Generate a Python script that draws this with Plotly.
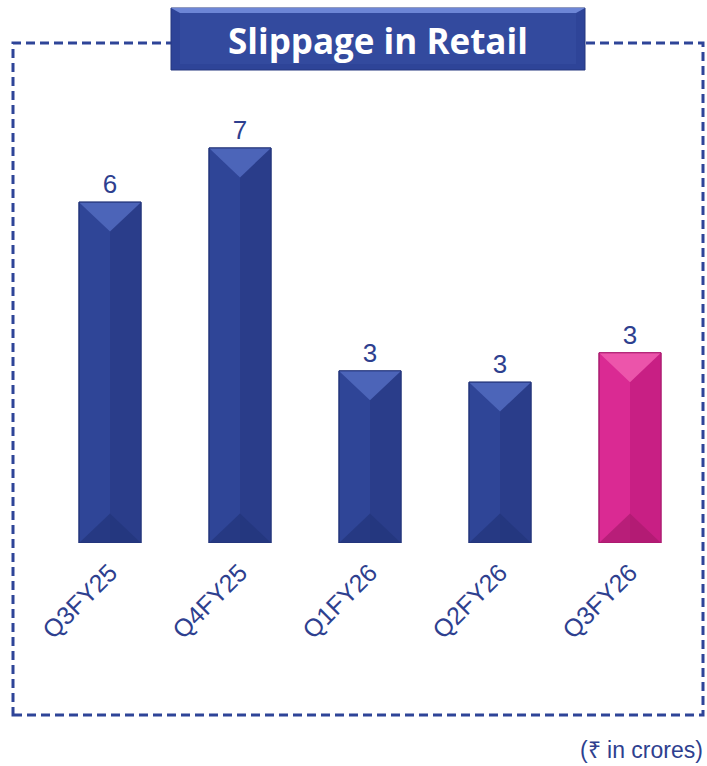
import plotly.graph_objects as go

categories = ["Q3FY25", "Q4FY25", "Q1FY26", "Q2FY26", "Q3FY26"]
values = [6.04, 7.0, 3.05, 2.85, 3.37]
value_labels = ["6", "7", "3", "3", "3"]
title_text = "Slippage in Retail"
note_text = "(₹ in crores)"

W, H = 707, 766
ML, MR, MT, MB = 45, 12, 100, 223
PW = W - ML - MR
PH = H - MT - MB
YMAX = 7.85
BARGAP = 0.523

BLUE = dict(main="#2F4597", right="#2A3D8A", top="#5068BC", bot="#22347A", line="#22347A")
PINK = dict(main="#DA2A93", right="#C81F84", top="#EE5AAE", bot="#A91A6E", line="#A91A6E")
palette = [BLUE, BLUE, BLUE, BLUE, PINK]
TXT = "#2E3F8F"

fig = go.Figure()
fig.add_trace(go.Bar(
    x=list(range(len(categories))), y=values,
    marker=dict(color=[p["main"] for p in palette],
                line=dict(color=[p["line"] for p in palette], width=1)),
    text=value_labels, textposition="outside",
    textfont=dict(family="Liberation Sans, Arial", size=26, color=TXT),
    cliponaxis=False, hoverinfo="skip",
))

# bevel shading derived from the data values
hw = (1 - BARGAP) / 2
px_per_unit = PH / YMAX
half_px = hw * PW / len(categories)
d = half_px * 0.95 / px_per_unit
shapes = []
for i, v in enumerate(values):
    p = palette[i]
    x0, x1, xc = i - hw, i + hw, i
    shapes.append(dict(type="path", xref="x", yref="y", layer="above",
                       path=f"M{xc},0 L{x1},0 L{x1},{v} L{xc},{v} Z",
                       fillcolor=p["right"], line=dict(width=0)))
    shapes.append(dict(type="path", xref="x", yref="y", layer="above",
                       path=f"M{x0},{v} L{x1},{v} L{xc},{v-d} Z",
                       fillcolor=p["top"], line=dict(width=0), opacity=0.9))
    shapes.append(dict(type="path", xref="x", yref="y", layer="above",
                       path=f"M{x0},0 L{x1},0 L{xc},{d} Z",
                       fillcolor=p["bot"], line=dict(width=0), opacity=0.7))
    shapes.append(dict(type="rect", xref="x", yref="y", layer="above",
                       x0=x0, x1=x1, y0=0, y1=v,
                       line=dict(color=p["line"], width=1)))

def px_x(px):
    return (px - ML) / PW

def px_y(py):
    return (H - MB - py) / PH

# dashed frame
shapes.append(dict(type="rect", xref="paper", yref="paper", layer="below",
                   x0=px_x(13), x1=px_x(703), y0=px_y(715), y1=px_y(43),
                   line=dict(color="#2E4498", width=3, dash="9px,5px")))
# title box
shapes.append(dict(type="rect", xref="paper", yref="paper", layer="above",
                   x0=px_x(171), x1=px_x(585), y0=px_y(70), y1=px_y(8),
                   fillcolor="#2E4498", line=dict(color="#24377F", width=1)))
shapes.append(dict(type="rect", xref="paper", yref="paper", layer="above",
                   x0=px_x(180), x1=px_x(576), y0=px_y(64), y1=px_y(13),
                   fillcolor="#334A9E", line=dict(width=0)))
shapes.append(dict(type="path", xref="paper", yref="paper", layer="above",
                   path=f"M{px_x(171)},{px_y(8)} L{px_x(585)},{px_y(8)} L{px_x(576)},{px_y(13)} L{px_x(180)},{px_y(13)} Z",
                   fillcolor="#6D86D6", line=dict(width=0)))

fig.update_layout(
    width=W, height=H,
    margin=dict(l=ML, r=MR, t=MT, b=MB, pad=0),
    paper_bgcolor="white", plot_bgcolor="rgba(0,0,0,0)",
    bargap=BARGAP, showlegend=False,
    shapes=shapes,
    xaxis=dict(tickmode="array", tickvals=list(range(len(categories))), ticktext=categories,
               tickangle=-45, showgrid=False, showline=False, zeroline=False, ticks="",
               range=[-0.5, len(categories) - 0.5], ticklabelstandoff=9,
               tickfont=dict(family="Liberation Sans, Arial", size=25, color=TXT)),
    yaxis=dict(range=[0, YMAX], visible=False, showgrid=False, zeroline=False),
    annotations=[
        dict(text=f"<b>{title_text}</b>", xref="paper", yref="paper",
             x=px_x(378), y=px_y(40), xanchor="center", yanchor="middle",
             showarrow=False, font=dict(family="Open Sans", size=35, color="white")),
        dict(text=note_text, xref="paper", yref="paper",
             x=px_x(705), y=px_y(750), xanchor="right", yanchor="middle",
             showarrow=False, font=dict(family="Liberation Sans Narrow, Liberation Sans", size=23, color=TXT)),
    ],
)

fig.write_html("out.html", config={"displayModeBar": False},
               post_script="document.body.style.margin='0px';")
